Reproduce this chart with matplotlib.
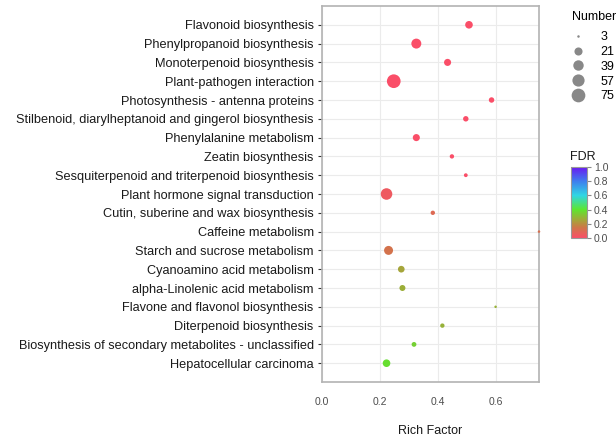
import numpy as np
import matplotlib.pyplot as plt
from matplotlib.colors import LinearSegmentedColormap
from matplotlib.lines import Line2D

plt.rcParams['font.family'] = ['Liberation Sans', 'DejaVu Sans']

# pathways, top to bottom
pathways = [
    'Flavonoid biosynthesis',
    'Phenylpropanoid biosynthesis',
    'Monoterpenoid biosynthesis',
    'Plant-pathogen interaction',
    'Photosynthesis - antenna proteins',
    'Stilbenoid, diarylheptanoid and gingerol biosynthesis',
    'Phenylalanine metabolism',
    'Zeatin biosynthesis',
    'Sesquiterpenoid and triterpenoid biosynthesis',
    'Plant hormone signal transduction',
    'Cutin, suberine and wax biosynthesis',
    'Caffeine metabolism',
    'Starch and sucrose metabolism',
    'Cyanoamino acid metabolism',
    'alpha-Linolenic acid metabolism',
    'Flavone and flavonol biosynthesis',
    'Diterpenoid biosynthesis',
    'Biosynthesis of secondary metabolites - unclassified',
    'Hepatocellular carcinoma',
]
rich_factor = [0.508, 0.326, 0.434, 0.248, 0.586, 0.497, 0.326, 0.449, 0.497, 0.223,
               0.383, 0.75, 0.23, 0.274, 0.278, 0.6, 0.416, 0.318, 0.223]
number = [18, 35, 15, 75, 8, 8, 15, 5, 4, 50, 5, 3, 27, 13, 10, 3, 5, 6, 18]
fdr = [0.0, 0.0, 0.0, 0.0, 0.0, 0.0, 0.0, 0.0, 0.0, 0.04,
       0.1, 0.12, 0.13, 0.25, 0.27, 0.28, 0.28, 0.35, 0.38]

size_breaks = [3, 21, 39, 57, 75]
fdr_ticks = [0.0, 0.2, 0.4, 0.6, 0.8, 1.0]
x_ticks = [0.0, 0.2, 0.4, 0.6]

cmap = LinearSegmentedColormap.from_list('fdr', [
    (0.0, '#FA4E68'), (0.15, '#CD7848'), (0.25, '#A5A53A'), (0.4, '#5DE62F'),
    (0.6, '#2FD6E3'), (0.8, '#3E7EEE'), (1.0, '#6A18F0')])


def marker_area(n):
    # diameter in px grows with sqrt of number (like ggplot scale_size)
    d = 2.5 + 11.2 * np.sqrt((np.asarray(n) - 3) / 72)
    return (d * 0.72) ** 2


fig = plt.figure(figsize=(6.16, 4.41), dpi=100)
ax = fig.add_axes([322 / 616, 59 / 441, 217 / 616, 376 / 441])

y = np.arange(len(pathways))[::-1] + 1
ax.scatter(rich_factor, y, s=marker_area(number), c=fdr, cmap=cmap, vmin=0, vmax=1,
           edgecolors='none', zorder=3, clip_on=False)

ax.set_xlim(0, 0.75)
ax.set_ylim(0, 20)
ax.set_xticks(x_ticks)
ax.set_xticklabels(['0.0', '0.2', '0.4', '0.6'], color='#4D4D4D', fontsize=7.5)
ax.set_yticks(y)
ax.set_yticklabels(pathways, fontsize=9.2, color='#1A1A1A')
ax.tick_params(axis='y', length=3, color='#333333', pad=3)
ax.tick_params(axis='x', length=0, pad=11)
ax.grid(True, color='#EBEBEB', linewidth=0.8, zorder=0)
ax.set_axisbelow(True)
for sp in ax.spines.values():
    sp.set_color('#B3B3B3')
    sp.set_linewidth(1.2)
ax.set_xlabel('Rich Factor', fontsize=9, color='#1A1A1A', labelpad=13)

# size legend
handles = [Line2D([], [], marker='o', linestyle='none', color='#888888',
                  markersize=np.sqrt(marker_area(b)), markeredgewidth=0)
           for b in size_breaks]
leg = fig.legend(handles, [str(b) for b in size_breaks], title='Number',
                 loc='upper left', bbox_to_anchor=(572 / 616, 1 - 11 / 441),
                 frameon=False, fontsize=9, title_fontsize=9,
                 handletextpad=1.25, labelspacing=0.22, borderaxespad=0,
                 handlelength=1.0, borderpad=0)
leg._legend_box.align = 'left'
leg._legend_box.sep = 6

# FDR colorbar
cax = fig.add_axes([571 / 616, 1 - 238 / 441, 16 / 616, 71 / 441])
sm = plt.cm.ScalarMappable(cmap=cmap, norm=plt.Normalize(0, 1))
cb = fig.colorbar(sm, cax=cax, ticks=fdr_ticks)
cb.ax.set_yticklabels(['%.1f' % t for t in fdr_ticks], fontsize=7.5, color='#4D4D4D')
cb.ax.tick_params(length=3, color='#888888', pad=2)
cb.outline.set_edgecolor('#999999')
fig.text(570 / 616, 1 - 157 / 441, 'FDR', fontsize=9, color='#1A1A1A', va='center')

fig.savefig('out.png', dpi=100)
